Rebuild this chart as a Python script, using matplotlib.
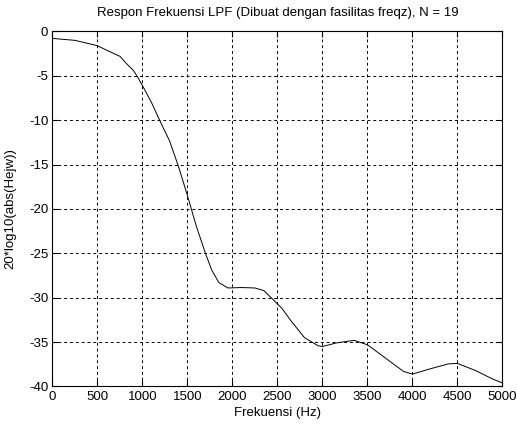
import numpy as np
import matplotlib.pyplot as plt

# magnitude response (Hz, dB)
freq = [0, 250, 500, 600, 750, 820, 900, 950, 1000, 1100, 1200, 1300, 1400, 1500,
        1600, 1700, 1770, 1850, 1950, 2100, 2250, 2350, 2450, 2550, 2650, 2800,
        2950, 3000, 3150, 3350, 3500, 3700, 3900, 4000, 4200, 4400, 4500, 4700,
        4900, 5000]
mag_db = [-0.78, -1.0, -1.6, -2.1, -2.8, -3.6, -4.4, -5.2, -6.1, -8.0, -10.2,
          -12.3, -15.2, -18.5, -22.0, -25.0, -26.9, -28.3, -28.9, -28.85, -28.9,
          -29.2, -30.2, -31.2, -32.6, -34.5, -35.4, -35.5, -35.1, -34.8, -35.3,
          -36.8, -38.3, -38.6, -38.0, -37.45, -37.4, -38.2, -39.2, -39.6]
xticks = np.arange(0, 5001, 500)
yticks = np.arange(-40, 1, 5)

plt.rcParams['font.family'] = ['Liberation Sans', 'DejaVu Sans']
plt.rcParams['axes.unicode_minus'] = False

fig = plt.figure(figsize=(5.17, 4.25), dpi=100)
ax = fig.add_axes([0.1015, 0.0906, 0.8704, 0.8353])
ax.plot(freq, mag_db, color='black', lw=0.7)
ax.set_xlim(0, 5000)
ax.set_ylim(-40, 0)
ax.set_xticks(xticks)
ax.set_yticks(yticks)
ax.grid(True, color='black', linestyle=(0, (3, 3)), linewidth=0.7)
ax.tick_params(direction='in', length=4, labelsize=9.5, pad=3,
               top=True, right=True)
for s in ax.spines.values():
    s.set_linewidth(0.8)
ax.set_title('Respon Frekuensi LPF (Dibuat dengan fasilitas freqz), N = 19',
             fontsize=9.5, pad=11)
ax.set_xlabel('Frekuensi (Hz)', fontsize=9.5, labelpad=3)
ax.set_ylabel('20*log10(abs(Hejw))', fontsize=9.5, labelpad=9)
fig.savefig('out.png', dpi=100)
